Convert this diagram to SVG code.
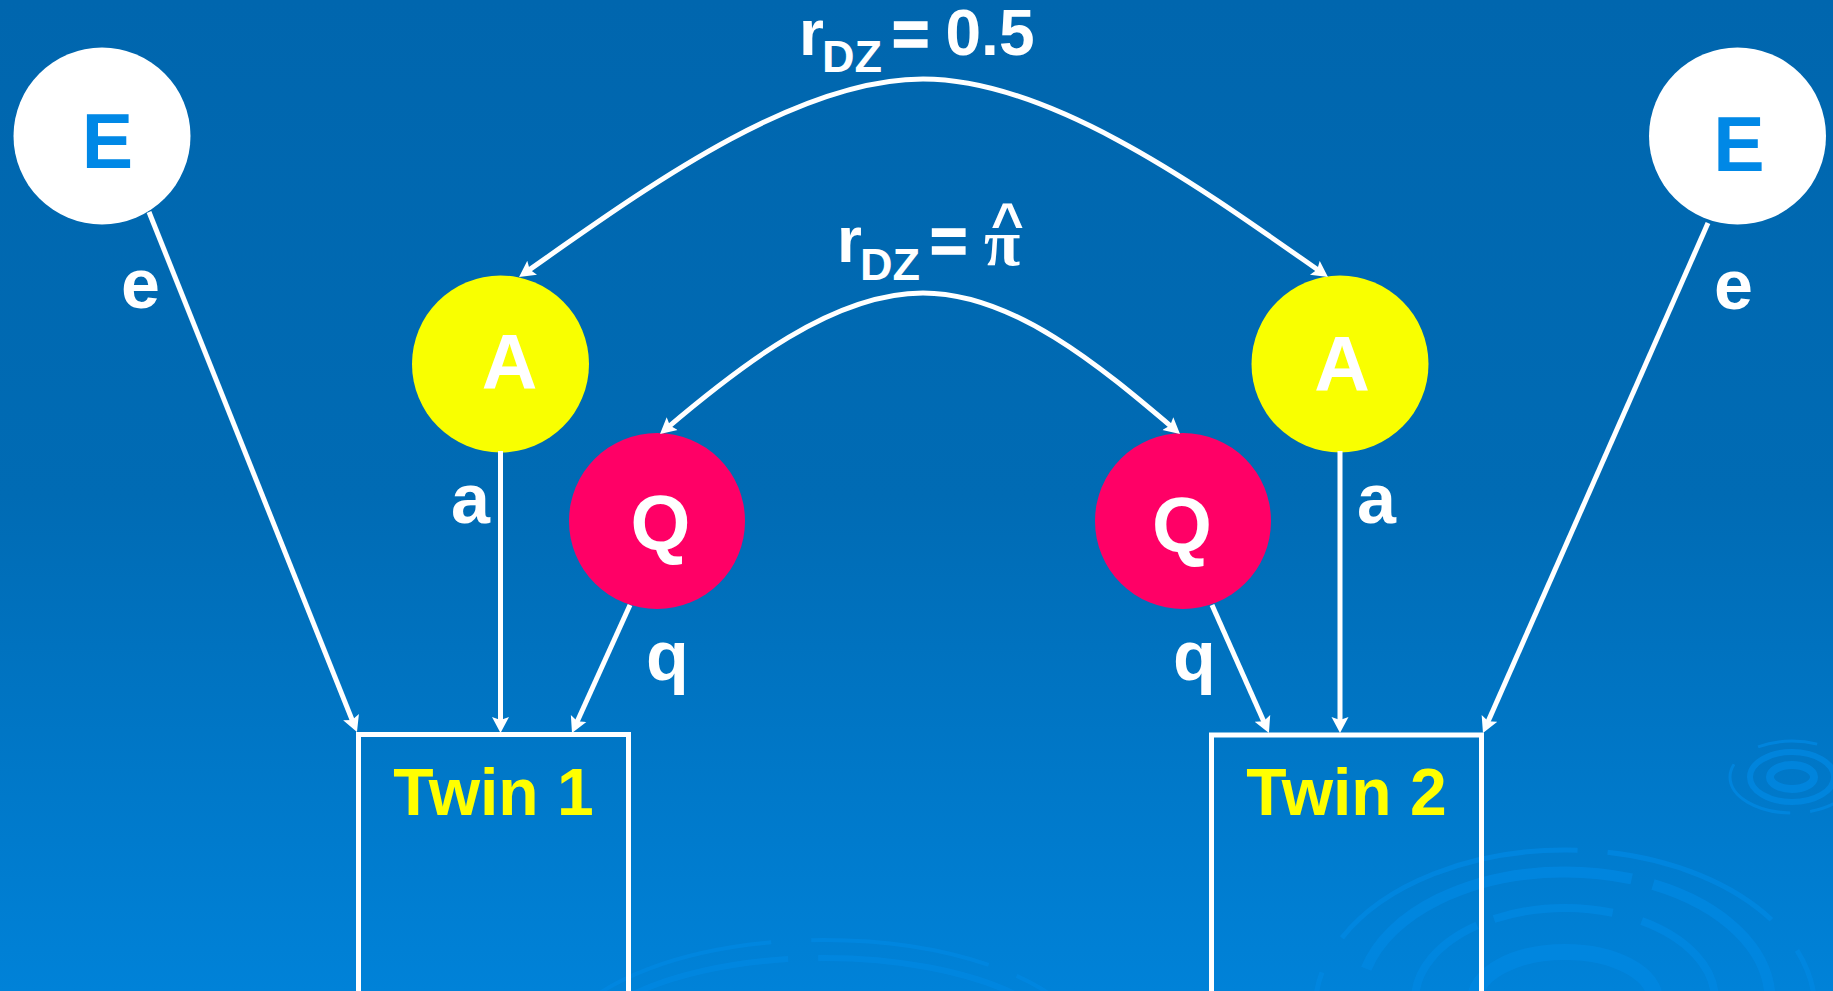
<svg xmlns="http://www.w3.org/2000/svg" width="1833" height="991" viewBox="0 0 1833 991">
  <defs>
    <linearGradient id="bg" x1="0" y1="0" x2="0" y2="1">
      <stop offset="0" stop-color="#0066AE"/>
      <stop offset="0.5" stop-color="#006BB4"/>
      <stop offset="1" stop-color="#0082D8"/>
    </linearGradient>
    <marker id="arr" markerUnits="userSpaceOnUse" markerWidth="20" markerHeight="20" viewBox="0 0 20 20" refX="8" refY="9" orient="auto-start-reverse">
      <path d="M0,0.5 L16,9 L0,17.5 L3,9 Z" fill="#FFFFFF"/>
    </marker>
    <style>
      .conn { fill: none; stroke: #FFFFFF; stroke-width: 5; }
      .lbl { font-family: "Liberation Sans", Arial, sans-serif; font-weight: bold; fill: #FFFFFF; }
      .eq { stroke: #FFFFFF; stroke-width: 1.6; }
      .nodeTxt { font-family: "Liberation Sans", Arial, sans-serif; font-weight: bold; font-size: 77px; text-anchor: middle; }
      .box { fill: none; stroke: #FFFFFF; stroke-width: 5; }
      .twin { font-family: "Liberation Sans", Arial, sans-serif; font-weight: bold; font-size: 66px; fill: #FFFF00; text-anchor: middle; }
      .rip { fill: none; stroke: #0088E2; }
    </style>
  </defs>

  <g id="background">
    <rect x="0" y="0" width="1833" height="991" fill="url(#bg)"/>
    <g opacity="0.8">
      <ellipse class="rip" cx="1565" cy="1000" rx="90" ry="48" stroke-width="16" stroke="#008BE6"/>
      <ellipse class="rip" cx="1565" cy="1000" rx="150" ry="92" stroke-width="8" stroke-dasharray="160 18 120 30"/>
      <ellipse class="rip" cx="1565" cy="1000" rx="205" ry="128" stroke-width="11" stroke-dasharray="300 22 200 40"/>
      <ellipse class="rip" cx="1565" cy="1010" rx="250" ry="160" stroke-width="5" stroke-dasharray="180 40 260 30"/>
      <ellipse class="rip" cx="1792" cy="777" rx="22" ry="12" stroke-width="8" stroke="#008BE6"/>
      <ellipse class="rip" cx="1792" cy="777" rx="42" ry="25" stroke-width="6"/>
      <ellipse class="rip" cx="1792" cy="777" rx="62" ry="36" stroke-width="3" stroke-dasharray="60 20 90 30"/>
      <ellipse class="rip" cx="824" cy="1060" rx="270" ry="120" stroke-width="4" stroke-dasharray="180 30 220 40"/>
      <ellipse class="rip" cx="824" cy="1060" rx="250" ry="102" stroke-width="6" stroke-dasharray="200 40 160 30"/>
    </g>
  </g>

  <g id="node-E1">
    <circle cx="102" cy="136" r="88.5" fill="#FFFFFF"/>
    <text class="nodeTxt" x="107.5" y="168" fill="#0088E6">E</text>
  </g>
  <g id="node-E2">
    <circle cx="1737.5" cy="136" r="88.5" fill="#FFFFFF"/>
    <text class="nodeTxt" x="1739" y="171" fill="#0088E6">E</text>
  </g>
  <g id="node-A1">
    <circle cx="500.5" cy="364" r="88.5" fill="#F9FF00"/>
    <text class="nodeTxt" x="509.5" y="389" fill="#FFFFFF">A</text>
  </g>
  <g id="node-A2">
    <circle cx="1340" cy="364" r="88.5" fill="#F9FF00"/>
    <text class="nodeTxt" x="1342" y="391" fill="#FFFFFF">A</text>
  </g>
  <g id="node-Q1">
    <circle cx="657" cy="521" r="88" fill="#FF0066"/>
    <text class="nodeTxt" x="660.5" y="550" fill="#FFFFFF">Q</text>
  </g>
  <g id="node-Q2">
    <circle cx="1183" cy="521" r="88" fill="#FF0066"/>
    <text class="nodeTxt" x="1182" y="552" fill="#FFFFFF">Q</text>
  </g>
  <g id="node-Twin1">
    <rect class="box" x="358.5" y="734.5" width="270" height="300"/>
    <text class="twin" x="493.5" y="815">Twin 1</text>
  </g>
  <g id="node-Twin2">
    <rect class="box" x="1211.5" y="735" width="270" height="300"/>
    <text class="twin" x="1346.5" y="815">Twin 2</text>
  </g>

  <g id="connectors">
    <path class="conn" d="M149,212 L354,724.6" marker-end="url(#arr)"/>
    <path class="conn" d="M1708,223 L1486.2,725.7" marker-end="url(#arr)"/>
    <path class="conn" d="M500.5,451 L500.5,725" marker-end="url(#arr)"/>
    <path class="conn" d="M630,605 L575.3,725.7" marker-end="url(#arr)"/>
    <path class="conn" d="M1212,605 L1265.7,725.7" marker-end="url(#arr)"/>
    <path class="conn" d="M1340,451 L1340,725" marker-end="url(#arr)"/>
    <path class="conn" d="M525.6,272.4 C639,193 793,79 923,79 C1053,79 1208,193 1321.4,272.4" marker-start="url(#arr)" marker-end="url(#arr)"/>
    <path class="conn" d="M666.1,428.8 C740,366 833,293 923,293 C1013,293 1100,366 1173.9,428.8" marker-start="url(#arr)" marker-end="url(#arr)"/>
  </g>

  <g id="labels">
    <text class="lbl" x="121" y="308" font-size="70">e</text>
    <text class="lbl" x="1714" y="309" font-size="70">e</text>
    <text class="lbl" x="451" y="523" font-size="70">a</text>
    <text class="lbl" x="1357" y="523" font-size="70">a</text>
    <text class="lbl" x="646" y="680" font-size="70">q</text>
    <text class="lbl" x="1173" y="680" font-size="70">q</text>

    <g id="label-rdz-05">
      <text class="lbl" x="799" y="55" font-size="64">r</text>
      <text class="lbl" x="822" y="72" font-size="45">DZ</text>
      <text class="lbl eq" x="892" y="56" font-size="64">=</text>
      <text class="lbl" x="945.5" y="55" font-size="64">0.5</text>
    </g>
    <g id="label-rdz-pi">
      <text class="lbl" x="837" y="262" font-size="64">r</text>
      <text class="lbl" x="860" y="280" font-size="45">DZ</text>
      <text class="lbl eq" x="930" y="263" font-size="64">=</text>
      <text fill="#FFFFFF" font-weight="bold"><tspan x="984" y="265" font-size="66" font-family="Liberation Serif, 'Times New Roman', serif">π</tspan><tspan x="991" y="242" font-size="56" font-family="Liberation Sans, Arial, sans-serif">^</tspan></text>
    </g>
  </g>
</svg>
